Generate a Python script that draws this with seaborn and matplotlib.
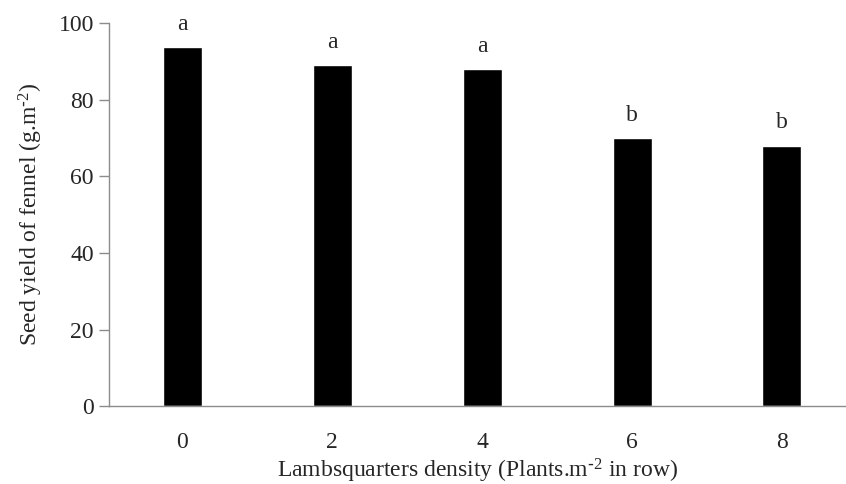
import numpy as np
import pandas as pd
import matplotlib
matplotlib.use("Agg")
import matplotlib.pyplot as plt
import seaborn as sns

# data
density = ["0", "2", "4", "6", "8"]
seed_yield = [93.8, 89.0, 88.0, 69.9, 68.0]
letters = ["a", "a", "a", "b", "b"]

sns.set_style("white")
plt.rcParams["font.family"] = ["Liberation Serif", "DejaVu Serif"]
plt.rcParams["mathtext.default"] = "regular"

df = pd.DataFrame({"density": density, "yield": seed_yield})

fig = plt.figure(figsize=(8.46, 4.84), dpi=100)
ax = fig.add_axes([0.129, 0.161, 0.871, 0.791])

sns.barplot(data=df, x="density", y="yield", color="black", width=0.26,
            saturation=1, ax=ax)

for i, (val, lab) in enumerate(zip(seed_yield, letters)):
    ax.text(i, val + 3.2, lab, ha="center", va="bottom", fontsize=17)

ax.set_xlim(-0.487, 4.427)
ax.set_ylim(0, 100)
ax.set_yticks(np.arange(0, 101, 20))
ax.tick_params(axis="y", which="both", left=True, length=7, width=1,
               color="#8c8c8c", labelsize=17, pad=4)
ax.tick_params(axis="x", bottom=False, labelsize=17, pad=15)

for side in ["top", "right"]:
    ax.spines[side].set_visible(False)
for side in ["left", "bottom"]:
    ax.spines[side].set_color("#8c8c8c")
    ax.spines[side].set_linewidth(1)

ax.set_ylabel("Seed yield of fennel (g.m$^{\\text{-}2}$)", fontsize=17, labelpad=10)
ax.set_xlabel("Lambsquarters density (Plants.m$^{\\text{-}2}$ in row)", fontsize=17,
              labelpad=3)

fig.savefig("out.png", dpi=100)
